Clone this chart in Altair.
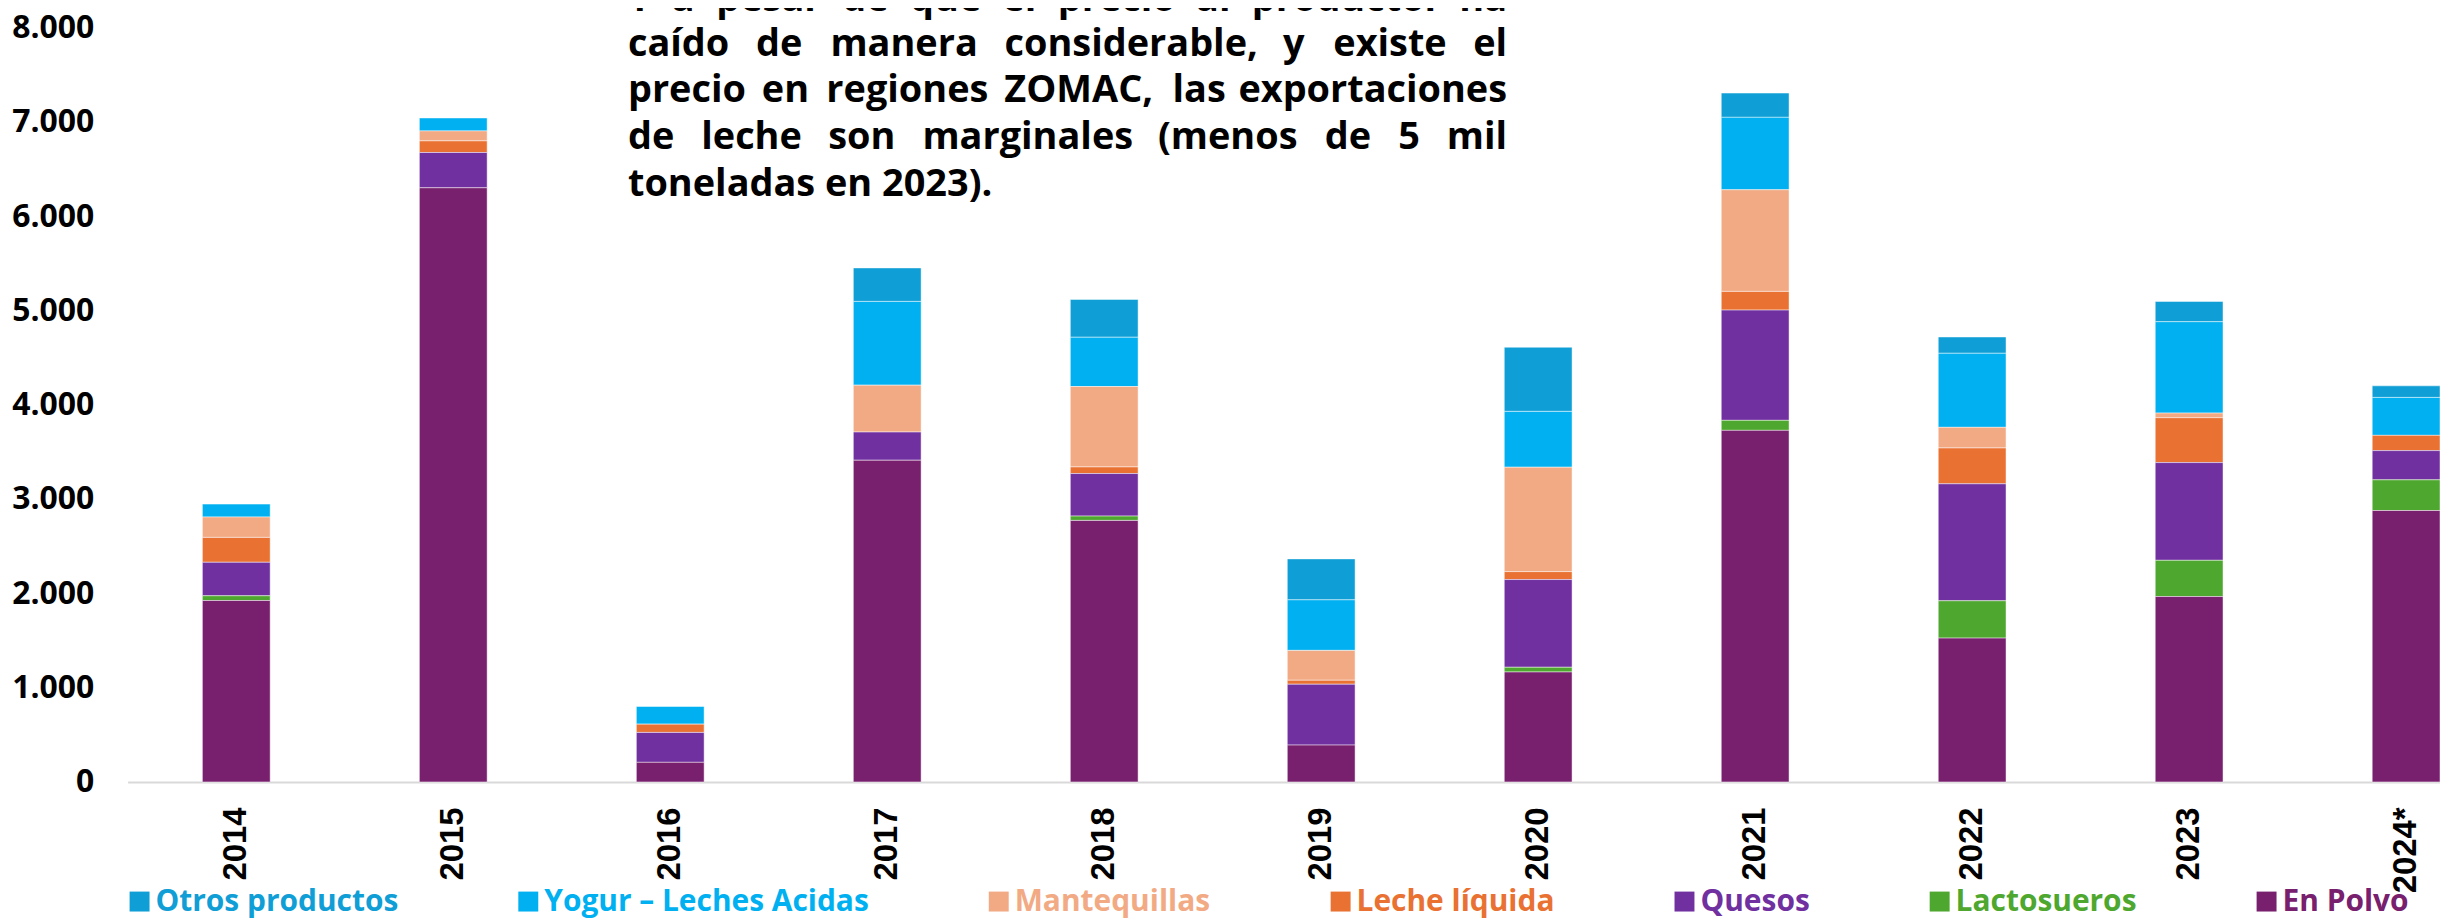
import altair as alt
import pandas as pd

# ---------------- data ----------------
years = ["2014", "2015", "2016", "2017", "2018", "2019", "2020", "2021", "2022", "2023", "2024*"]

series_names = ["Otros productos", "Yogur – Leches Acidas", "Mantequillas", "Leche líquida",
                "Quesos", "Lactosueros", "En Polvo"]
series_colors = ["#0F9ED5", "#00B0F0", "#F2AA84", "#E97132", "#7030A0", "#4EA72E", "#78206E"]

otros = [0, 0, 0, 355, 401, 434, 680, 257, 173, 215, 123]
yogur = [137, 137, 187, 888, 522, 536, 592, 768, 785, 969, 402]
mantequillas = [216, 106, 0, 497, 853, 317, 1107, 1078, 219, 49, 0]
leche_liquida = [264, 123, 88, 0, 70, 42, 84, 198, 380, 476, 162]
quesos = [355, 374, 317, 299, 451, 645, 930, 1169, 1240, 1036, 310]
lactosueros = [50, 0, 0, 0, 46, 0, 50, 106, 396, 384, 325]
en_polvo = [1924, 6300, 208, 3411, 2773, 391, 1166, 3728, 1525, 1966, 2878]

y_ticks = [0, 1000, 2000, 3000, 4000, 5000, 6000, 7000, 8000]

note_lines = [
    "Y a pesar de que el precio al productor ha",
    "caído de manera considerable, y existe el",
    "precio en regiones ZOMAC, las exportaciones",
    "de leche son marginales (menos de 5 mil",
    "toneladas en 2023).",
]

# ---------------- tables ----------------
series_values = [otros, yogur, mantequillas, leche_liquida, quesos, lactosueros, en_polvo]
rows = []
for s_idx, (name, vals) in enumerate(zip(series_names, series_values)):
    for yr, v in zip(years, vals):
        if v > 0:
            rows.append({"year": yr, "product": name, "value": v,
                         "stack_order": len(series_names) - 1 - s_idx})
df = pd.DataFrame(rows)

# justified annotation layout (approximate Open Sans Bold advance widths, em)
FS = 38
CW = {'a': .589, 'b': .617, 'c': .509, 'd': .617, 'e': .585, 'f': .374, 'g': .557, 'h': .645,
      'i': .295, 'í': .295, 'j': .295, 'k': .586, 'l': .295, 'm': .982, 'n': .645, 'o': .61,
      'p': .617, 'q': .617, 'r': .447, 's': .502, 't': .416, 'u': .645, 'v': .569, 'w': .86,
      'x': .564, 'y': .569, 'z': .494, 'Y': .568, 'Z': .56, 'O': .788, 'M': .99, 'A': .708,
      'C': .634, ',': .29, '.': .29, '(': .35, ')': .35, ' ': .26}


def text_w(s):
    return sum(CW.get(ch, .572) for ch in s) * FS


X0, X1 = 502, 1384
baselines = [-16, 29, 75, 122, 169]
note_rows = []
for li, line in enumerate(note_lines):
    last = li == len(note_lines) - 1
    if last:
        note_rows.append({"word": line, "px": X0, "py": baselines[li], "anchor": "left"})
        continue
    words = line.split(" ")
    gap = (X1 - X0 - sum(text_w(w) for w in words)) / (len(words) - 1)
    x = X0
    for wi, w in enumerate(words):
        if wi == len(words) - 1:
            note_rows.append({"word": w, "px": X1, "py": baselines[li], "anchor": "right"})
        else:
            note_rows.append({"word": w, "px": x, "py": baselines[li], "anchor": "left"})
        x += text_w(w) + gap
note_df = pd.DataFrame(note_rows)

# ---------------- chart ----------------
bars = alt.Chart(df).mark_bar(stroke="white", strokeWidth=0.8, strokeOpacity=0.6).encode(
    x=alt.X("year:N", sort=years, title=None,
            scale=alt.Scale(paddingInner=0.6876, paddingOuter=0.1723, align=1),
            axis=alt.Axis(labelAngle=-90, labelFont="Liberation Sans", labelFontWeight="bold",
                          labelFontSize=33, labelColor="black", labelPadding=25, ticks=False,
                          domainColor="#D9D9D9", domainWidth=2, grid=False)),
    y=alt.Y("value:Q", stack="zero", title=None,
            scale=alt.Scale(domain=[0, 8000], nice=False),
            axis=alt.Axis(values=y_ticks,
                          labelExpr="replace(format(datum.value, ','), ',', '.')",
                          labelFont="Open Sans", labelFontWeight="bold", labelFontSize=32,
                          labelColor="black", labelPadding=34, ticks=False, domain=False,
                          grid=False)),
    color=alt.Color("product:N",
                    scale=alt.Scale(domain=series_names, range=series_colors),
                    legend=alt.Legend(title=None, orient="none", direction="horizontal",
                                      legendX=-3, legendY=862, symbolType="square",
                                      symbolSize=400, symbolStrokeWidth=0, symbolOpacity=1,
                                      labelFont="Open Sans", labelFontWeight="bold",
                                      labelFontSize=30, labelOffset=1, columnPadding=115,
                                      labelLimit=600, padding=0,
                                      labelColor=alt.ExprRef("scale('color', datum.value)"))),
    order=alt.Order("stack_order:Q", sort="ascending"),
)

note_base = alt.Chart(note_df)
note_left = note_base.transform_filter("datum.anchor == 'left'").mark_text(
    align="left", baseline="alphabetic", font="Open Sans", fontWeight="bold",
    fontSize=FS, color="black").encode(
    x=alt.X("px:Q", scale=None, axis=None),
    y=alt.Y("py:Q", scale=None, axis=None),
    text="word:N")
note_right = note_base.transform_filter("datum.anchor == 'right'").mark_text(
    align="right", baseline="alphabetic", font="Open Sans", fontWeight="bold",
    fontSize=FS, color="black").encode(
    x=alt.X("px:Q", scale=None, axis=None),
    y=alt.Y("py:Q", scale=None, axis=None),
    text="word:N")

chart = alt.layer(bars, note_left, note_right).resolve_scale(
    x="independent", y="independent"
).properties(
    width=2320, height=757,
    autosize=alt.AutoSizeParams(type="none"),
    padding={"left": 120, "top": 18, "right": 0, "bottom": 136},
).configure_view(stroke=None)

chart.save("out.html", embed_options={"renderer": "svg", "actions": False})
